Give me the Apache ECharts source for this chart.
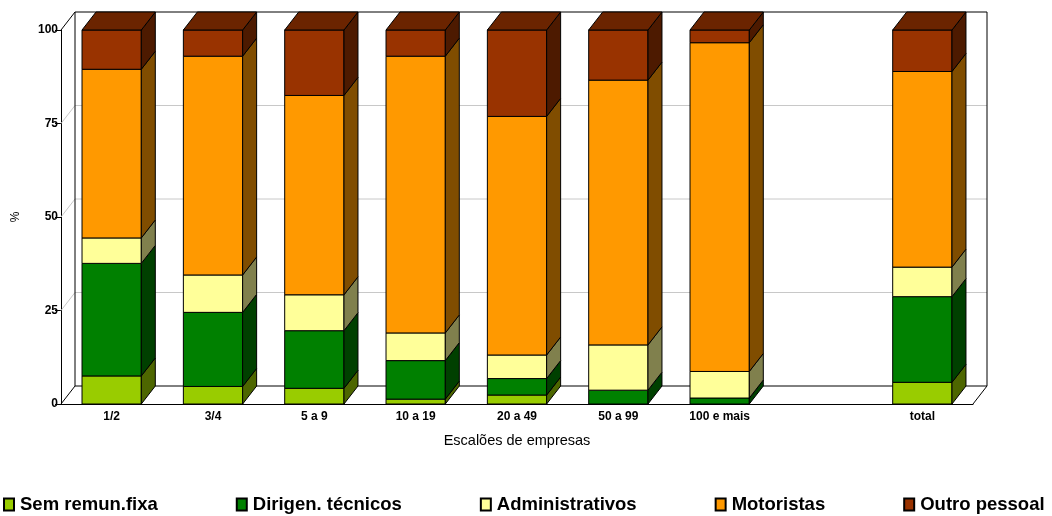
<!DOCTYPE html>
<html>
<head>
<meta charset="utf-8">
<script src="https://cdn.jsdelivr.net/npm/echarts@6/dist/echarts.min.js"></script>
<style>
  html, body { margin: 0; padding: 0; background: #fff; }
  #chart { width: 1052px; height: 516px; }
</style>
</head>
<body>
<div id="chart"></div>
<script>
// dados (%)
var categories = ['1/2', '3/4', '5 a 9', '10 a 19', '20 a 49', '50 a 99', '100 e mais', '', 'total'];
var semRemun = [7.5, 4.7, 4.2, 1.3, 2.4, 0, 0, null, 5.8];
var dirigentes = [30.1, 19.8, 15.4, 10.3, 4.4, 3.7, 1.6, null, 22.9];
var administrativos = [6.8, 10.0, 9.6, 7.4, 6.3, 12.1, 7.1, null, 7.9];
var motoristas = [45.1, 58.5, 53.3, 74.0, 63.8, 70.8, 87.9, null, 52.3];
var outroPessoal = [10.5, 7.0, 17.5, 7.0, 23.1, 13.4, 3.4, null, 11.1];
var yTicks = [0, 25, 50, 75, 100];

var seriesDefs = [
  { name: 'Sem remun.fixa', values: semRemun, color: '#99cc00', side: '#4d6600' },
  { name: 'Dirigen. técnicos', values: dirigentes, color: '#008000', side: '#004000' },
  { name: 'Administrativos', values: administrativos, color: '#ffff99', side: '#80804d' },
  { name: 'Motoristas', values: motoristas, color: '#ff9900', side: '#804d00' },
  { name: 'Outro pessoal', values: outroPessoal, color: '#993300', side: '#4d1a00', top: '#6b2400' }
];

var DX = 14, DY = 18;

// bases acumuladas
var base = categories.map(function () { return 0; });
var stacked = seriesDefs.map(function (s) {
  var rows = [];
  s.values.forEach(function (v, i) {
    if (v == null) return;
    rows.push([i, base[i], base[i] + v]);
    base[i] += v;
  });
  return rows;
});

function barItem(def, isTop) {
  return function (params, api) {
    var i = api.value(0), lo = api.value(1), hi = api.value(2);
    if (hi - lo <= 0) return null;
    var pLo = api.coord([i, lo]);
    var pHi = api.coord([i, hi]);
    var w = api.size([1, 0])[0] * 0.585;
    var xl = pLo[0] - w / 2, xr = pLo[0] + w / 2;
    var yb = pLo[1], yt = pHi[1];
    var st = { stroke: '#000', lineWidth: 1 };
    var children = [
      { type: 'rect', shape: { x: xl, y: yt, width: w, height: yb - yt },
        style: Object.assign({ fill: def.color }, st) },
      { type: 'polygon', shape: { points: [[xr, yt], [xr + DX, yt - DY], [xr + DX, yb - DY], [xr, yb]] },
        style: Object.assign({ fill: def.side }, st) }
    ];
    if (isTop) {
      children.push({ type: 'polygon',
        shape: { points: [[xl, yt], [xl + DX, yt - DY], [xr + DX, yt - DY], [xr, yt]] },
        style: Object.assign({ fill: def.top }, st) });
    }
    return { type: 'group', children: children };
  };
}

function frameItem(params, api) {
  var cs = params.coordSys;
  var x0 = cs.x, x1 = cs.x + cs.width;
  var children = [];
  yTicks.forEach(function (t) {
    var y = api.coord([0, t])[1];
    var edge = (t === 0 || t === 100);
    var col = edge ? '#000' : '#c8c8c8';
    children.push({ type: 'line', shape: { x1: x0, y1: y, x2: x0 + DX, y2: y - DY },
      style: { stroke: col, lineWidth: 1 } });
    children.push({ type: 'line', shape: { x1: x0 + DX, y1: y - DY, x2: x1 + DX, y2: y - DY },
      style: { stroke: col, lineWidth: 1 } });
  });
  var yTop = api.coord([0, 100])[1] - DY, yBot = api.coord([0, 0])[1] - DY;
  var yFront = api.coord([0, 0])[1];
  children.push({ type: 'line', shape: { x1: x0 + DX, y1: yTop, x2: x0 + DX, y2: yBot }, style: { stroke: '#000' } });
  children.push({ type: 'line', shape: { x1: x1 + DX, y1: yTop, x2: x1 + DX, y2: yBot }, style: { stroke: '#000' } });
  children.push({ type: 'line', shape: { x1: x1, y1: yFront, x2: x1 + DX, y2: yBot }, style: { stroke: '#000' } });
  return { type: 'group', children: children };
}

var series = [{
  type: 'custom',
  name: '_frame',
  renderItem: frameItem,
  data: [[0, 0]],
  silent: true,
  z: 1
}];
seriesDefs.forEach(function (def, k) {
  series.push({
    type: 'custom',
    name: def.name,
    renderItem: barItem(def, k === seriesDefs.length - 1),
    itemStyle: { color: def.color, borderColor: '#000', borderWidth: 1 },
    encode: { x: 0, y: 2 },
    data: stacked[k],
    z: 2 + k
  });
});

var chart = echarts.init(document.getElementById('chart'));
chart.setOption({
  animation: false,
  backgroundColor: '#fff',
  textStyle: { fontFamily: 'Liberation Sans, Arial, sans-serif' },
  grid: { left: 61, right: 79, top: 30, bottom: 112 },
  legend: {
    data: seriesDefs.map(function (s) { return s.name; }),
    left: 3,
    top: 495,
    padding: 0,
    icon: 'rect',
    itemWidth: 10,
    itemHeight: 12,
    itemGap: 78,
    textStyle: { fontSize: 18.5, fontWeight: 'bold', color: '#000', padding: [0, 0, 0, 1] }
  },
  xAxis: {
    type: 'category',
    data: categories,
    name: 'Escalões de empresas',
    nameLocation: 'middle',
    nameGap: 29,
    nameTextStyle: { fontSize: 14.5, color: '#000' },
    axisLine: { lineStyle: { color: '#000', width: 1 } },
    axisTick: { inside: true, length: 5, lineStyle: { color: '#000' } },
    axisLabel: { fontSize: 12, fontWeight: 'bold', color: '#000', margin: 7, interval: 0 },
    splitLine: { show: false }
  },
  yAxis: {
    type: 'value',
    min: 0,
    max: 100,
    interval: 25,
    name: '%',
    nameLocation: 'middle',
    nameRotate: 90,
    nameGap: 39,
    nameTextStyle: { fontSize: 12, color: '#000' },
    axisLine: { show: true, lineStyle: { color: '#000', width: 1 } },
    axisTick: { show: true, length: 6, lineStyle: { color: '#000' } },
    axisLabel: { fontSize: 12, fontWeight: 'bold', color: '#000', margin: 3 },
    splitLine: { show: false }
  },
  series: series
});
</script>
</body>
</html>
